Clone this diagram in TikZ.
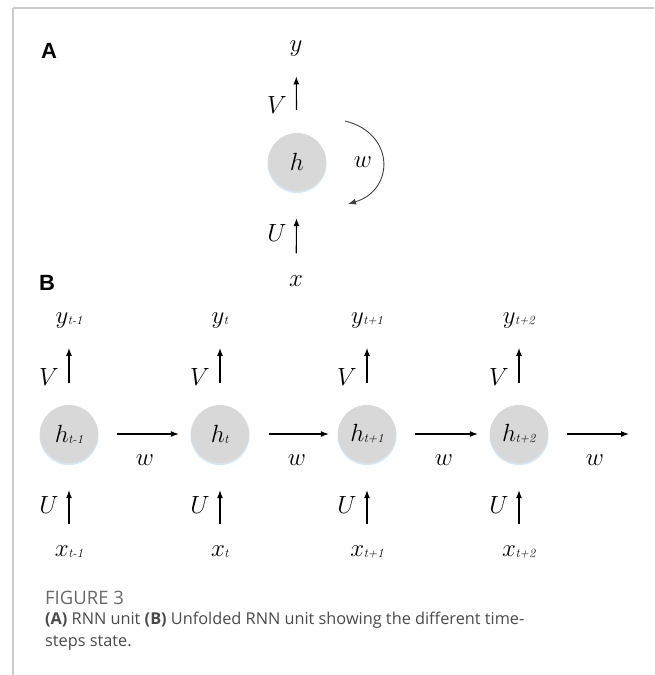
\documentclass[tikz,border=0pt]{standalone}
\usepackage{fontspec}
\newfontfamily\capfont{Open Sans}
\newfontfamily\panelfont{Liberation Sans}
\usetikzlibrary{arrows.meta}
\definecolor{circfill}{HTML}{D8D8D8}
\definecolor{circshadow}{HTML}{D2E6F5}
\definecolor{framegray}{HTML}{CCCCCC}
\definecolor{capgray}{HTML}{6A6A6A}
\definecolor{captext}{HTML}{4A4A4A}
\tikzset{
  lbl/.style={inner sep=0pt, font=\fontsize{23}{23}\selectfont},
  panel/.style={inner sep=0pt, font=\panelfont\bfseries\fontsize{22}{22}\selectfont},
  unit/.style={circle, fill=circfill, minimum size=58pt, inner sep=0pt, font=\fontsize{23}{23}\selectfont},
  shadowc/.style={circle, fill=circshadow, minimum size=59pt, inner sep=0pt},
  arr/.style={-{Latex[length=8pt,width=6pt]}, line width=1.1pt, black},
  loop/.style={-{Latex[length=8pt,width=6pt]}, line width=0.9pt, black!75},
  frame/.style={line width=1.5pt, framegray}
}
\newcommand{\sbt}[1]{\kern-0.5pt\raisebox{-1pt}{\fontsize{12.5}{12.5}\selectfont\textit{#1}}}
\begin{document}
\begin{tikzpicture}[x=1pt,y=-1pt]
\useasboundingbox (0,0) rectangle (654,675);
\fill[white] (0,0) rectangle (654,675);
% frame
\draw[frame] (13,8) -- (654,8);
\draw[frame] (13,8) -- (13,675);

% ---------- Panel A ----------
\node[panel] (pA) at (49,51) {A};
\node[shadowc] at (297,163.5) {};
\node[unit] (hA) at (297,162) {$h$};
\node[lbl] (yA) at (296,49) {$y$};
\node[lbl] (xA) at (296,281) {$x$};
\node[lbl] (VA) at (277,105) {$V$};
\node[lbl] (UA) at (277,233) {$U$};
\draw[arr, shorten <=23pt, shorten >=19.5pt] (hA) -- (yA);
\draw[arr, shorten <=22pt, shorten >=27pt] (xA) -- (hA);
\coordinate (wS) at (345,121);
\coordinate (wE) at (348,204);
\draw[loop] (wS) .. controls (395,133) and (395,190) .. (wE);
\node[lbl] (wA) at (363,162) {$w$};

% ---------- Panel B ----------
\node[panel] (pB) at (47,283) {B};
\foreach \i/\cx/\sub in {1/69/t-1, 2/220/t, 3/367/t+1, 4/519/t+2}{
  \node[shadowc] at (\cx,435.5) {};
  \node[unit] (h\i) at (\cx,434) {$h$\sbt{\sub}};
  \node[lbl] (y\i) at (\cx,321) {$y$\sbt{\sub}};
  \node[lbl] (x\i) at (\cx,552) {$x$\sbt{\sub}};
  \node[lbl] (V\i) at (\cx-20,377) {$V$};
  \node[lbl] (U\i) at (\cx-20,505) {$U$};
  \draw[arr, shorten <=22pt, shorten >=19pt] (h\i) -- (y\i);
  \draw[arr, shorten <=22pt, shorten >=27pt] (x\i) -- (h\i);
}
\coordinate (hEnd) at (629,434);
\draw[arr, shorten <=19pt, shorten >=12pt] (h1) -- (h2);
\draw[arr, shorten <=20pt, shorten >=9pt] (h2) -- (h3);
\draw[arr, shorten <=19pt, shorten >=12pt] (h3) -- (h4);
\draw[arr, shorten <=19pt] (h4) -- (hEnd);
\node[lbl] (w1) at (145,460) {$w$};
\node[lbl] (w2) at (297,460) {$w$};
\node[lbl] (w3) at (444,460) {$w$};
\node[lbl] (w4) at (595,460) {$w$};

% ---------- Caption ----------
\node[anchor=west, inner sep=0pt, text=capgray, font=\capfont\fontsize{18.5}{18.5}\selectfont] (figlbl) at (45,598) {FIGURE 3};
\node[anchor=north west, inner sep=0pt, align=left, text=captext, font=\capfont\fontsize{16.3}{22}\selectfont] (cap) at (45,612)
  {\textbf{(A)} RNN unit \textbf{(B)} Unfolded RNN unit showing the different time-\\steps state.};
\end{tikzpicture}
\end{document}
